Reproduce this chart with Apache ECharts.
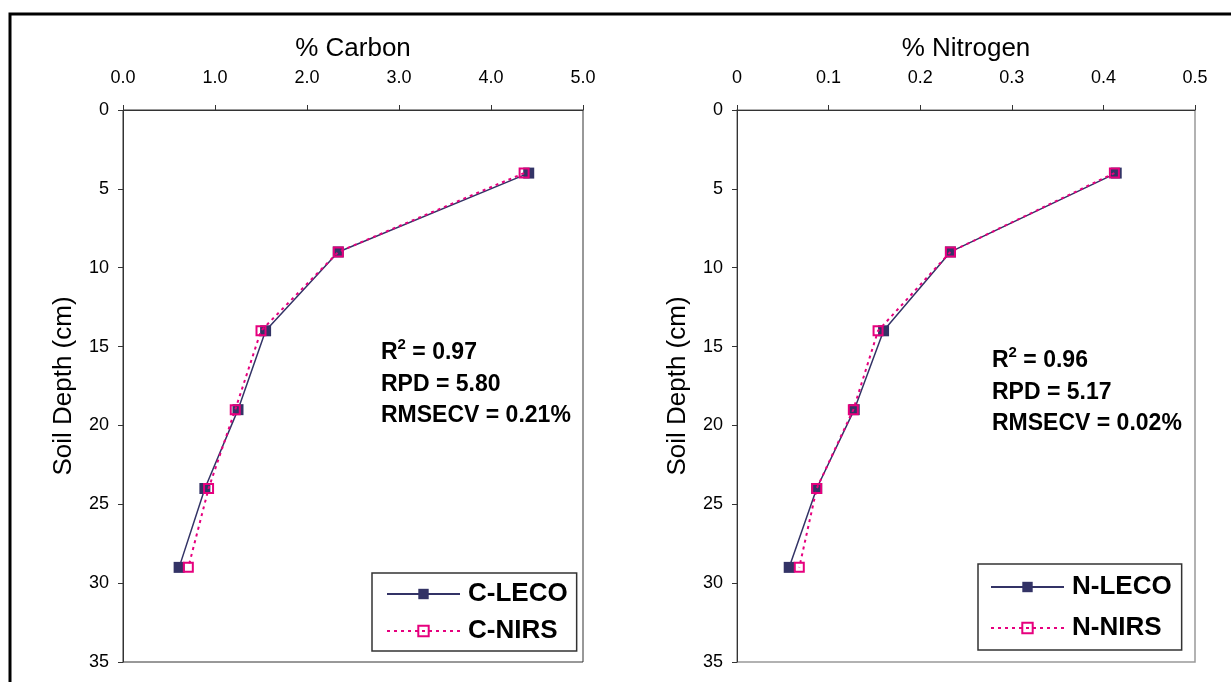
<!DOCTYPE html>
<html>
<head>
<meta charset="utf-8">
<script src="https://cdn.jsdelivr.net/npm/echarts@6/dist/echarts.min.js"></script>
<style>
  html, body { margin: 0; padding: 0; background: #fff; }
  #chart { width: 1231px; height: 682px; }
</style>
</head>
<body>
<div id="chart"></div>
<script>
// soil depth of each sample (cm)
var depths = [4, 9, 14, 19, 24, 29];

// % carbon
var carbonLeco = [4.41, 2.34, 1.55, 1.25, 0.89, 0.61];
var carbonNirs = [4.36, 2.34, 1.50, 1.22, 0.93, 0.71];

// % nitrogen
var nitrogenLeco = [0.414, 0.233, 0.160, 0.128, 0.087, 0.057];
var nitrogenNirs = [0.412, 0.233, 0.154, 0.127, 0.087, 0.068];

// calibration stats: R2, RPD, RMSECV
var carbonStats = ["0.97", "5.80", "0.21%"];
var nitrogenStats = ["0.96", "5.17", "0.02%"];

var FONT = "'Liberation Sans', Arial, sans-serif";
var NAVY = "#333366";
var PINK = "#e6007e";

function pairs(xs) {
  return xs.map(function (x, i) {
    return [x, depths[i]];
  });
}

function xAxis(idx, max, interval, fmt) {
  return {
    type: "value",
    gridIndex: idx,
    position: "top",
    min: 0,
    max: max,
    interval: interval,
    name: idx === 0 ? "% Carbon" : "% Nitrogen",
    nameLocation: "middle",
    nameGap: 48,
    nameTextStyle: { fontFamily: FONT, fontSize: 26, color: "#000" },
    axisLine: { show: true, lineStyle: { color: "#333", width: 1 } },
    axisTick: { show: true, length: 5, lineStyle: { color: "#333" } },
    axisLabel: {
      margin: 23,
      fontFamily: FONT,
      fontSize: 18,
      color: "#000",
      formatter: fmt,
    },
    splitLine: { show: false },
  };
}

function yAxis(idx) {
  return {
    type: "value",
    gridIndex: idx,
    inverse: true,
    min: 0,
    max: 35,
    interval: 5,
    name: "Soil Depth (cm)",
    nameLocation: "middle",
    nameGap: 46,
    nameTextStyle: { fontFamily: FONT, fontSize: 26, color: "#000" },
    axisLine: { show: true, lineStyle: { color: "#333", width: 1 } },
    axisTick: { show: true, length: 5, lineStyle: { color: "#333" } },
    axisLabel: { margin: 14, fontFamily: FONT, fontSize: 18, color: "#000" },
    splitLine: { show: false },
  };
}

function lecoSeries(name, idx, xs) {
  return {
    name: name,
    type: "line",
    xAxisIndex: idx,
    yAxisIndex: idx,
    data: pairs(xs),
    symbol: "rect",
    symbolSize: 11,
    itemStyle: { color: NAVY },
    lineStyle: { color: NAVY, width: 1.5 },
    z: 2,
  };
}

function nirsSeries(name, idx, xs) {
  return {
    name: name,
    type: "line",
    xAxisIndex: idx,
    yAxisIndex: idx,
    data: pairs(xs),
    symbol: "rect",
    symbolSize: 9,
    itemStyle: { color: "rgba(255,255,255,0)", borderColor: PINK, borderWidth: 2 },
    lineStyle: { color: PINK, width: 2, type: [3, 4] },
    z: 3,
  };
}

function legend(names, left, top, pad, gap) {
  return {
    data: names,
    orient: "vertical",
    left: left,
    top: top,
    padding: pad,
    itemGap: gap,
    itemWidth: 73,
    itemHeight: 13,
    backgroundColor: "#fff",
    borderColor: "#333",
    borderWidth: 1.5,
    borderRadius: 0,
    textStyle: {
      fontFamily: FONT,
      fontSize: 26,
      fontWeight: "bold",
      color: "#000",
      lineHeight: 30,
      padding: [0, 0, 0, 3],
    },
  };
}

function statsText(left, top, s) {
  return {
    type: "text",
    left: left,
    top: top,
    z: 10,
    style: {
      text:
        "{b|R}{s|2}{b| = " + s[0] + "}\n{b|RPD = " + s[1] + "}\n{b|RMSECV = " + s[2] + "}",
      rich: {
        b: { fontFamily: FONT, fontSize: 23, fontWeight: "bold", fill: "#000", lineHeight: 31.5 },
        s: { fontFamily: FONT, fontSize: 15, fontWeight: "bold", fill: "#000", lineHeight: 21, verticalAlign: "top" },
      },
    },
  };
}

var chart = echarts.init(document.getElementById("chart"));
chart.setOption({
  backgroundColor: "#fff",
  animation: false,
  grid: [
    { left: 123, top: 110, width: 460, height: 552, show: true, borderColor: "#333", borderWidth: 1, backgroundColor: "#fff" },
    { left: 737, top: 110, width: 458, height: 552, show: true, borderColor: "#999", borderWidth: 1.5, backgroundColor: "#fff" },
  ],
  xAxis: [
    xAxis(0, 5, 1, function (v) { return v.toFixed(1); }),
    xAxis(1, 0.5, 0.1),
  ],
  yAxis: [yAxis(0), yAxis(1)],
  legend: [
    legend(["C-LECO", "C-NIRS"], 372, 573, [6, 9, 5, 14], 7),
    legend(["N-LECO", "N-NIRS"], 978, 564, [8, 10, 7, 12], 11),
  ],
  series: [
    lecoSeries("C-LECO", 0, carbonLeco),
    nirsSeries("C-NIRS", 0, carbonNirs),
    lecoSeries("N-LECO", 1, nitrogenLeco),
    nirsSeries("N-NIRS", 1, nitrogenNirs),
  ],
  graphic: [
    {
      type: "rect",
      shape: { x: 10, y: 14, width: 1240, height: 700 },
      style: { fill: "none", stroke: "#000", lineWidth: 3 },
      silent: true,
      z: 0,
    },
    statsText(381, 337, carbonStats),
    statsText(992, 345, nitrogenStats),
  ],
});
</script>
</body>
</html>
